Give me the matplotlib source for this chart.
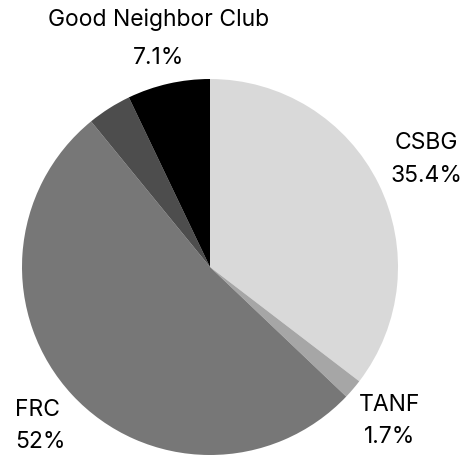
import matplotlib
matplotlib.use("Agg")
import matplotlib.pyplot as plt

plt.rcParams['font.family'] = ['Inter', 'DejaVu Sans']

labels = ['CSBG', 'TANF', 'FRC', '', 'Good Neighbor Club']
values = [35.4, 1.7, 52.0, 3.8, 7.1]
shown = ['35.4%', '1.7%', '52%', '', '7.1%']
colors = ['#d9d9d9', '#a6a6a6', '#777777', '#4d4d4d', '#000000']

fig = plt.figure(figsize=(4.71, 4.55), dpi=100)
ax = fig.add_axes([22 / 471, 0, 376 / 471, 376 / 455])
ax.pie(values, colors=colors, startangle=90, counterclock=False,
       wedgeprops=dict(linewidth=0))
ax.set_xlim(-1, 1)
ax.set_ylim(-1, 1)
ax.set_aspect('equal')
ax.axis('off')

# label spots (data coords, radius 1): x, y, align, line spacing
spots = [(1.149, 0.572, 'center', 1.6), (0.957, -0.819, 'center', 1.6),
         (-1.037, -0.846, 'left', 1.6), None, (-0.271, 1.215, 'center', 1.95)]
for lab, txt, sp in zip(labels, shown, spots):
    if sp is None:
        continue
    ax.text(sp[0], sp[1], lab + '\n' + txt, ha=sp[2], va='center',
            fontsize=16.5, linespacing=sp[3], clip_on=False)

fig.savefig('out.png', dpi=100)
